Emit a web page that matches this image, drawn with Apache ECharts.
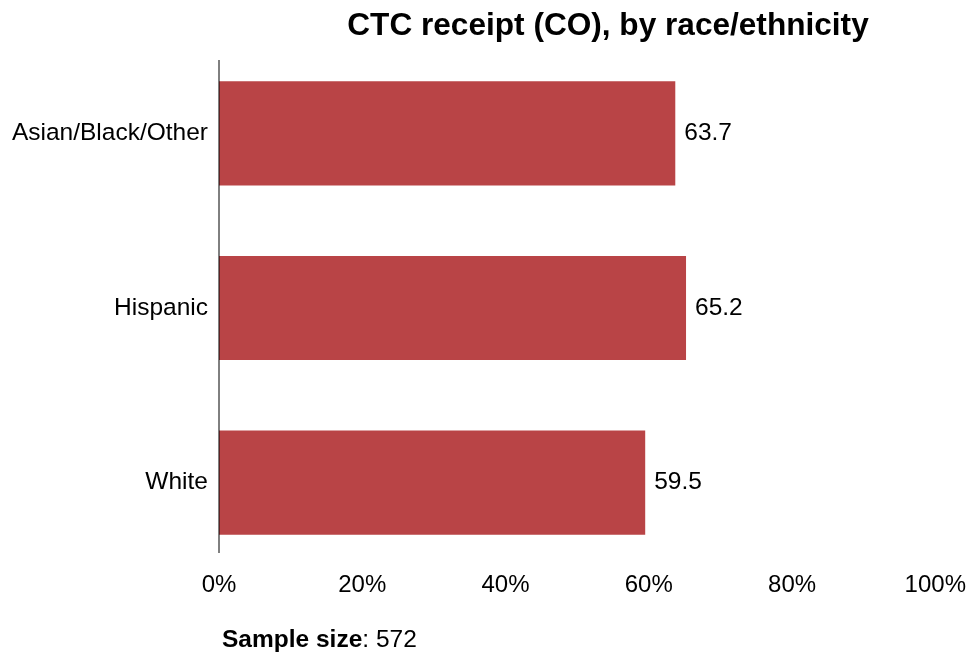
<!DOCTYPE html>
<html>
<head>
<meta charset="utf-8">
<script src="https://cdn.jsdelivr.net/npm/echarts@6/dist/echarts.min.js"></script>
<style>
  html, body { margin: 0; padding: 0; background: #fff; }
  #chart { width: 969px; height: 655px; }
</style>
</head>
<body>
<div id="chart"></div>
<script>
// Share of households receiving the Child Tax Credit in Colorado, by group
const categories = ['White', 'Hispanic', 'Asian/Black/Other'];
const receiptPct = [59.5, 65.2, 63.7];
const xTicks = [0, 20, 40, 60, 80, 100];
const sampleSize = 572;

const FONT = '"Liberation Sans", Arial, sans-serif';

const chart = echarts.init(document.getElementById('chart'));
chart.setOption({
  animation: false,
  backgroundColor: '#ffffff',
  title: {
    text: 'CTC receipt (CO), by race/ethnicity',
    left: 603,
    textAlign: 'center',
    top: 5,
    textStyle: { fontFamily: FONT, fontSize: 31.6, fontWeight: 'bold', color: '#000' }
  },
  graphic: [
    {
      // vertical baseline of the category axis
      type: 'line',
      shape: { x1: 219, y1: 60, x2: 219, y2: 553 },
      style: { stroke: '#000', lineWidth: 1 },
      z: 10
    },
    {
      type: 'text',
      left: 222,
      top: 628,
      style: {
        text: '{b|Sample size}: ' + sampleSize,
        rich: { b: { fontFamily: FONT, fontSize: 24.5, fontWeight: 'bold', fill: '#000' } },
        font: '24.5px ' + FONT,
        fill: '#000'
      }
    }
  ],
  grid: { left: 219, right: 32, top: 46, bottom: 85, containLabel: false },
  xAxis: {
    type: 'value',
    min: xTicks[0],
    max: xTicks[xTicks.length - 1],
    interval: 20,
    axisLine: { show: false },
    axisTick: { show: false },
    splitLine: { show: false },
    axisLabel: {
      formatter: v => v + '%',
      fontFamily: FONT, fontSize: 24, color: '#000', margin: 3
    }
  },
  yAxis: {
    type: 'category',
    data: categories,
    axisLine: { show: false },
    axisTick: { show: false },
    axisLabel: { fontFamily: FONT, fontSize: 24.5, color: '#000', margin: 11 }
  },
  series: [{
    type: 'bar',
    data: receiptPct,
    barCategoryGap: '40.4%',
    itemStyle: { color: '#b94446' },
    label: {
      show: true,
      position: 'right',
      distance: 9,
      formatter: p => p.value.toFixed(1),
      fontFamily: FONT, fontSize: 24.5, color: '#000'
    }
  }]
});
</script>
</body>
</html>
